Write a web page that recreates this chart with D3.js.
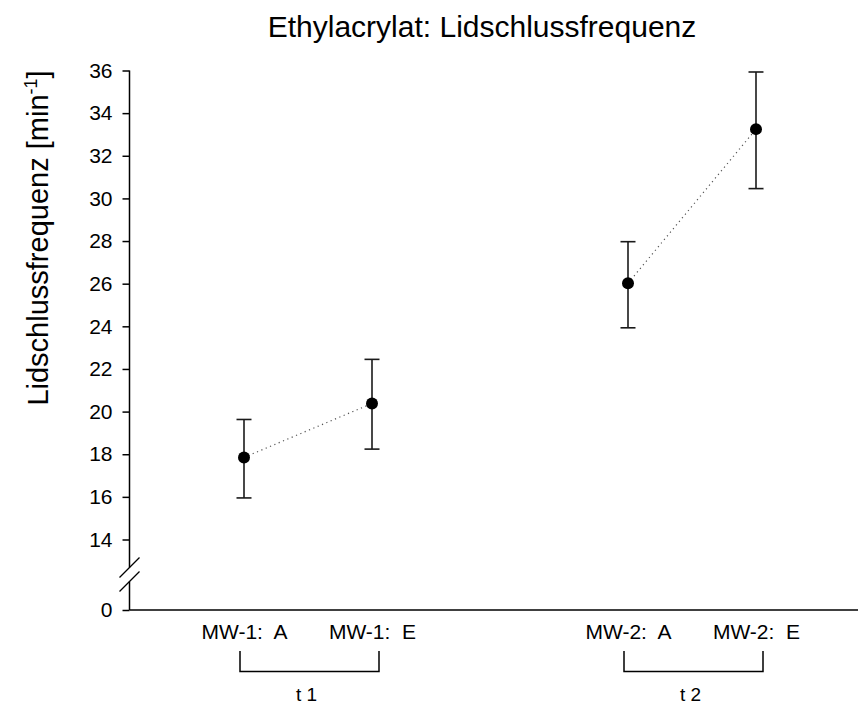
<!DOCTYPE html>
<html>
<head>
<meta charset="utf-8">
<script src="https://cdn.jsdelivr.net/npm/d3@7"></script>
<style>
  body { margin: 0; background: #fff; }
  text { font-family: "Liberation Sans", Arial, sans-serif; fill: #000; }
</style>
</head>
<body>
<div id="chart"></div>
<script>
// Data
const categories = ["MW-1:  A", "MW-1:  E", "MW-2:  A", "MW-2:  E"];
const means = [17.85, 20.38, 26.02, 33.25];
const lower = [15.95, 18.24, 23.93, 30.46];
const upper = [19.63, 22.45, 27.97, 35.93];
const groupOf = [0, 0, 1, 1];
const groupLabels = ["t 1", "t 2"];
const yTicks = [0, 14, 16, 18, 20, 22, 24, 26, 28, 30, 32, 34, 36];

const width = 860, height = 704;
const axisX = 130, axisY = 610, axisRight = 858;

const svg = d3.select("#chart").append("svg")
  .attr("width", width)
  .attr("height", height);

// x: point scale with an empty slot between the two measurement groups
const x = d3.scalePoint()
  .domain([categories[0], categories[1], "gap", categories[2], categories[3]])
  .range([244, 756]);

// y: broken axis, 0 squeezed below 14
const y = d3.scaleLinear()
  .domain([0, 14, 36])
  .range([axisY, 539.5, 70.5]);

// Title
svg.append("text")
  .attr("x", 482)
  .attr("y", 37)
  .attr("text-anchor", "middle")
  .style("font-size", "30px")
  .text("Ethylacrylat: Lidschlussfrequenz");

// y axis
const yAxis = svg.append("g")
  .attr("transform", `translate(${axisX - 0.5},0)`)
  .call(d3.axisLeft(y).tickValues(yTicks).tickSize(7).tickPadding(10).tickFormat(d3.format("d")));
yAxis.select(".domain").remove();
yAxis.selectAll(".tick line").attr("stroke", "#000").attr("stroke-width", 1.5);
yAxis.selectAll(".tick text").style("font-size", "21px").attr("font-family", null);

// axis line with break
const gapTop = 567.5, gapBot = 581.5;
svg.append("line")
  .attr("x1", axisX - 0.5).attr("x2", axisX - 0.5)
  .attr("y1", y(36)).attr("y2", gapTop)
  .attr("stroke", "#000").attr("stroke-width", 1.5);
svg.append("line")
  .attr("x1", axisX - 0.5).attr("x2", axisX - 0.5)
  .attr("y1", gapBot).attr("y2", axisY)
  .attr("stroke", "#000").attr("stroke-width", 1.5);
[gapTop, gapBot].forEach(cy => {
  svg.append("line")
    .attr("x1", axisX - 10.5).attr("y1", cy + 10)
    .attr("x2", axisX + 9.5).attr("y2", cy - 10)
    .attr("stroke", "#000").attr("stroke-width", 1.2);
});

// x axis
svg.append("line")
  .attr("x1", axisX - 0.5).attr("x2", axisRight)
  .attr("y1", axisY).attr("y2", axisY)
  .attr("stroke", "#000").attr("stroke-width", 1.5);
const xAxis = svg.append("g")
  .attr("transform", `translate(0,${axisY})`)
  .call(d3.axisBottom(x).tickValues(categories).tickSize(0).tickPadding(14));
xAxis.select(".domain").remove();
xAxis.selectAll(".tick text")
  .style("font-size", "21px")
  .style("white-space", "pre")
  .attr("font-family", null);

// y label
svg.append("text")
  .attr("transform", "translate(48,238) rotate(-90)")
  .attr("text-anchor", "middle")
  .style("font-size", "29px")
  .call(t => {
    t.append("tspan").text("Lidschlussfrequenz [min");
    t.append("tspan").attr("dy", -11).style("font-size", "18px").text("-1");
    t.append("tspan").attr("dy", 11).text("]");
  });

// dotted connectors within each group
groupLabels.forEach((g, gi) => {
  const idx = d3.range(categories.length).filter(i => groupOf[i] === gi);
  svg.append("path")
    .datum(idx)
    .attr("d", d3.line().x(i => x(categories[i])).y(i => y(means[i])))
    .attr("fill", "none")
    .attr("stroke", "#555")
    .attr("stroke-width", 1.2)
    .attr("stroke-dasharray", "1.2,3.5");
});

// error bars
const capW = 7.5;
const bars = svg.append("g").selectAll("g")
  .data(d3.range(categories.length))
  .join("g")
  .attr("stroke", "#1a1a1a")
  .attr("stroke-width", 1.6);
bars.append("line")
  .attr("x1", i => x(categories[i])).attr("x2", i => x(categories[i]))
  .attr("y1", i => y(lower[i])).attr("y2", i => y(upper[i]));
bars.append("line")
  .attr("x1", i => x(categories[i]) - capW).attr("x2", i => x(categories[i]) + capW)
  .attr("y1", i => y(upper[i])).attr("y2", i => y(upper[i]));
bars.append("line")
  .attr("x1", i => x(categories[i]) - capW).attr("x2", i => x(categories[i]) + capW)
  .attr("y1", i => y(lower[i])).attr("y2", i => y(lower[i]));

// points
svg.append("g").selectAll("circle")
  .data(d3.range(categories.length))
  .join("circle")
  .attr("cx", i => x(categories[i]))
  .attr("cy", i => y(means[i]))
  .attr("r", 6)
  .attr("fill", "#000");

// group brackets below the axis
groupLabels.forEach((g, gi) => {
  const xs = d3.range(categories.length).filter(i => groupOf[i] === gi).map(i => x(categories[i]));
  const x0 = d3.min(xs) - 4, x1 = d3.max(xs) + 7;
  svg.append("path")
    .attr("d", `M${x0},651V671.5H${x1}V651`)
    .attr("fill", "none")
    .attr("stroke", "#000")
    .attr("stroke-width", 1.5);
  svg.append("text")
    .attr("x", (x0 + x1) / 2 - 3)
    .attr("y", 701)
    .attr("text-anchor", "middle")
    .style("font-size", "19px")
    .text(g);
});
</script>
</body>
</html>
